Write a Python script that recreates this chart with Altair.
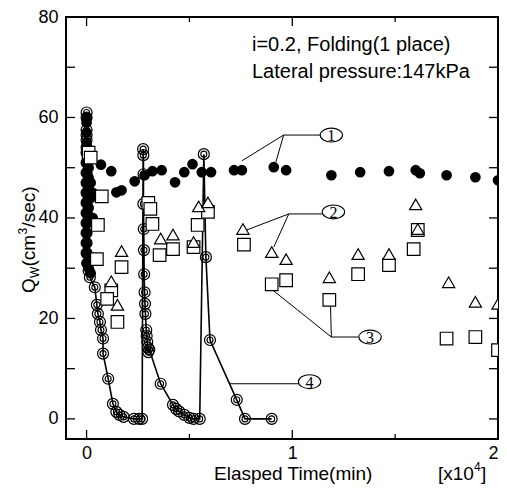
import altair as alt
import pandas as pd

# ---------------- data (time in minutes, Qw in cm3/sec) ----------------
s1_t = [0, 0, 0, 0, 0, 0, 0, 0, 0, 0, 0, 0, 0, 0, 0, 0, 100, 100, 100, 100, 100, 100, 200, 200, 200, 300, 300,
        700, 1200, 1450, 1700, 2340, 2820, 3200, 3650, 4300, 4750, 5150, 5600, 6050, 7170, 7550,
        9100, 9700, 11900, 13300, 14700, 16000, 16200, 17500, 18900, 20000]
s1_q = [60, 59, 57, 55, 53, 51, 49, 47, 45, 43, 41, 39, 37, 35, 33, 31, 50, 48, 46, 44, 42, 30, 47, 44, 29, 45, 40,
        50.6, 49.3, 45.1, 45.5, 47.3, 48.5, 49.3, 49.5, 47.1, 49.1, 50.7, 49.1, 49.1, 49.5, 49.5,
        50.1, 49.5, 48.5, 49.1, 49.3, 49.5, 48.9, 48.5, 48.1, 47.5]

s2_t = [1200, 1700, 1500, 3600, 4200, 5200, 5450, 5900, 7600, 9000, 9700, 11800, 13200, 14700,
        16000, 16100, 17600, 18900, 20000]
s2_q = [27.4, 33.4, 22.7, 35.9, 36.7, 35.2, 42.3, 43.1, 37.8, 33.2, 31.8, 28.2, 32.8, 32.8,
        42.7, 37.8, 27.2, 23.3, 22.9]

s3_t = [100, 200, 500, 550, 740, 1700, 1200, 1000, 1500, 3000, 3100, 3200, 3550, 4200, 5200, 5400,
        5900, 7650, 9000, 9700, 11800, 13200, 14700, 15900, 16100, 17500, 18900, 20000]
s3_q = [53, 52, 31.8, 38.6, 44.3, 30.2, 25.6, 23.9, 19.3, 43, 41.8, 38.8, 32.6, 33.8, 34.2, 38.6,
        41.2, 34.7, 26.8, 27.6, 23.7, 28.8, 30.6, 33.8, 37.6, 16.0, 16.3, 13.7]

s4_t = [0, 0, 0, 0, 0, 0, 0, 0, 0, 0, 0, 0, 0, 0, 0, 0, 0, 50, 100, 160, 400, 500, 550, 650, 700,
        800, 800, 1050, 1280, 1450, 1600, 1800, 2300, 2550, 2700,
        2750, 2760, 2770, 2760, 2780, 2790, 2800, 2820, 2840, 2860, 2900, 2920, 2950, 2980, 3000,
        3050, 3600, 4200, 4350, 4500, 4750, 5000, 5200, 5500,
        5700, 5800, 6000, 7300, 7700, 9000]
s4_q = [61, 60, 57.5, 56.5, 55.5, 54, 53, 51, 49, 47, 45, 43, 41, 39, 37, 35, 33, 31, 29.5, 28.2,
        26.2, 22.7, 20.9, 19.3, 17.7, 16, 13, 8, 3, 1.4, 0.8, 0.4, 0, 0, 0,
        53.7, 52.5, 48.7, 42.8, 37.8, 33.6, 28.8, 25.2, 22.9, 20.9, 17.7, 16.5, 15.3, 14.2, 13.3,
        13.8, 7.0, 2.8, 2.0, 1.5, 0.8, 0.2, 0, 0,
        52.7, 32.2, 15.7, 3.8, 0, 0]

# circled series labels and their leader lines
lab_t = [11900, 12000, 13780, 10840]
lab_q = [56.5, 41.2, 16.3, 7.4]
lab_txt = ["1", "2", "3", "4"]
lead_id = [1, 1, 1, 2, 2, 3, 3, 3, 4, 4, 5, 5, 6, 6]
lead_t = [7560, 9580, 11380, 9200, 9580, 7650, 9830, 11450, 9100, 9830, 9000, 11900, 11860, 11900]
lead_q = [51.4, 56.5, 56.5, 51.1, 56.5, 37.4, 40.8, 40.8, 34.2, 40.8, 25.8, 16.3, 22.3, 16.3]
lead4_t = [6930, 10310]
lead4_q = [7.0, 7.0]
lead3h_t = [11900, 13200]
lead3h_q = [16.3, 16.3]

x_major = [0, 10000, 20000]
x_minor = [5000, 15000]
y_ticks = [0, 10, 20, 30, 40, 50, 60, 70, 80]

# ---------------- chart ----------------
FONT = "Liberation Sans"
W, H = 432, 422
xs = alt.Scale(domain=[-1000, 20000], nice=False, zero=False)
ys = alt.Scale(domain=[-4, 80], nice=False, zero=False)
xax = alt.Axis(values=x_major, labelExpr="datum.value / 10000", ticks=False, domain=False, grid=False,
               title=None, labelFont=FONT, labelFontSize=18, labelPadding=5, labelColor="black")
yax = alt.Axis(values=[0, 20, 40, 60, 80], ticks=False, domain=False, grid=False, title=None,
               labelFont=FONT, labelFontSize=18, labelPadding=8, labelColor="black")


def XE(f="t"):
    return alt.X(f + ":Q", scale=xs, axis=xax)


def YE(f="q"):
    return alt.Y(f + ":Q", scale=ys, axis=yax)


d1 = pd.DataFrame({"t": s1_t, "q": s1_q})
d2 = pd.DataFrame({"t": s2_t, "q": s2_q})
d3 = pd.DataFrame({"t": s3_t, "q": s3_q})
d4 = pd.DataFrame({"t": s4_t, "q": s4_q, "i": list(range(len(s4_t)))})
dl = pd.DataFrame({"t": lab_t, "q": lab_q, "s": lab_txt})
dlead = pd.DataFrame({"t": lead_t, "q": lead_q, "g": lead_id, "i": list(range(len(lead_t)))})
dlead2 = pd.DataFrame({"t": lead4_t + lead3h_t, "q": lead4_q + lead3h_q, "g": [1, 1, 2, 2]})

layers = []

layers.append(alt.Chart(dlead).mark_line(color="black", strokeWidth=1).encode(
    x=XE(), y=YE(), detail="g:N", order="i:Q"))
layers.append(alt.Chart(dlead2).mark_line(color="black", strokeWidth=1).encode(
    x=XE(), y=YE(), detail="g:N"))

layers.append(alt.Chart(d4).mark_line(color="black", strokeWidth=1.6, clip=True).encode(
    x=XE(), y=YE(), order="i:Q"))
layers.append(alt.Chart(d4).mark_point(shape="circle", size=120, filled=False, stroke="black",
                                       strokeWidth=1.2, opacity=1, clip=True).encode(
    x=XE(), y=YE()))
layers.append(alt.Chart(d4).mark_point(shape="circle", size=36, filled=False, stroke="black",
                                       strokeWidth=1.1, opacity=1, clip=True).encode(
    x=XE(), y=YE()))
layers.append(alt.Chart(d1).mark_circle(size=115, color="black", opacity=1, clip=True).encode(
    x=XE(), y=YE()))
layers.append(alt.Chart(d3).mark_point(shape="square", size=158, filled=True, fill="white",
                                       stroke="black", strokeWidth=1.2, opacity=1, clip=True).encode(
    x=XE(), y=YE()))
layers.append(alt.Chart(d2).mark_point(shape="triangle-up", size=150, filled=True, fill="white",
                                       stroke="black", strokeWidth=1.2, opacity=1, clip=True).encode(
    x=XE(), y=YE()))

# circled labels
ellipse = "M-1,0A1,0.62,0,1,1,1,0A1,0.62,0,1,1,-1,0Z"
layers.append(alt.Chart(dl).mark_point(shape=ellipse, size=500, filled=True, fill="white",
                                       stroke="black", strokeWidth=1.1, opacity=1).encode(
    x=XE(), y=YE()))
layers.append(alt.Chart(dl).mark_text(font="Liberation Serif", fontSize=16, color="black",
                                      baseline="middle", align="center", dy=1).encode(
    x=XE(), y=YE(), text="s:N"))

# inward ticks on all four sides
dxM = pd.DataFrame({"t": x_major})
dxm = pd.DataFrame({"t": x_minor})
dy = pd.DataFrame({"q": y_ticks})
for df, ln in ((dxM, 9), (dxm, 5)):
    layers.append(alt.Chart(df).mark_rule(color="black", strokeWidth=1.3).encode(
        x=XE(), y=alt.value(H), y2=alt.value(H - ln)))
    layers.append(alt.Chart(df).mark_rule(color="black", strokeWidth=1.3).encode(
        x=XE(), y=alt.value(0), y2=alt.value(ln)))
layers.append(alt.Chart(dy).mark_rule(color="black", strokeWidth=1.3).encode(
    y=YE(), x=alt.value(0), x2=alt.value(9)))
layers.append(alt.Chart(dy).mark_rule(color="black", strokeWidth=1.3).encode(
    y=YE(), x=alt.value(W), x2=alt.value(W - 9)))

one = pd.DataFrame({"a": [0]})


def txt(s, x, y, size, angle=0, align="left", font=FONT):
    kw = dict(text=s, fontSize=size, font=font, color="black", align=align, baseline="alphabetic")
    if angle:
        kw["angle"] = angle
    return alt.Chart(one).mark_text(**kw).encode(x=alt.value(x), y=alt.value(y))


# annotation block
layers.append(txt("i=0.2, Folding(1 place)", 186, 34, 20))
layers.append(txt("Lateral pressure:147kPa", 186, 61, 20))

# y title: Q_W(cm^3/sec)
layers.append(txt("Q", -31, 276, 19, angle=270))
layers.append(txt("W", -27, 261, 12, angle=270))
layers.append(txt("(cm", -31, 249.5, 19, angle=270))
layers.append(txt("3", -39, 217.5, 12, angle=270))
layers.append(txt("/sec)", -31, 210.5, 19, angle=270))

# x title and multiplier
layers.append(txt("Elasped Time(min)", 148, 463, 19))
layers.append(txt("[x10", 372, 463, 19))
layers.append(txt("4", 408, 454, 12))
layers.append(txt("]", 415, 463, 19))

chart = alt.layer(*layers).properties(
    width=W, height=H,
    autosize=alt.AutoSizeParams(type="none"),
    padding={"left": 58, "top": 9, "right": 1, "bottom": 45},
).configure_view(stroke="black", strokeWidth=2)

chart.save("out.html", embed_options={"renderer": "svg", "actions": False})
